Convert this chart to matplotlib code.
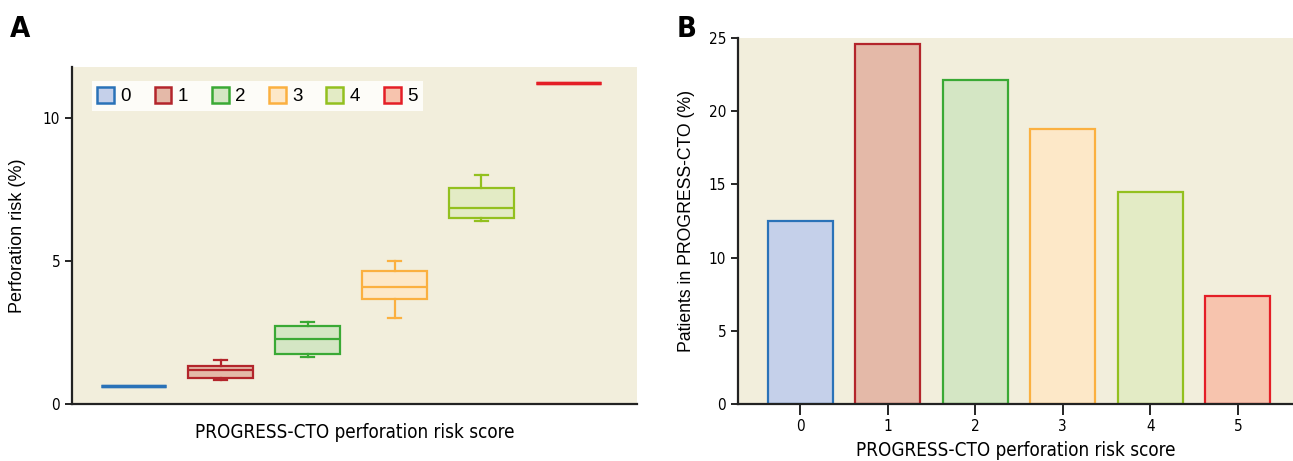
import numpy as np
import matplotlib
matplotlib.use('Agg')
import matplotlib.pyplot as plt
from matplotlib.patches import Patch

## data
scores = [0, 1, 2, 3, 4, 5]
risk_whislo = [0.64, 0.85, 1.65, 3.02, 6.41, 11.22]
risk_q1     = [0.64, 0.92, 1.76, 3.68, 6.50, 11.22]
risk_med    = [0.64, 1.18, 2.26, 4.10, 6.85, 11.22]
risk_q3     = [0.64, 1.34, 2.74, 4.64, 7.55, 11.22]
risk_whishi = [0.64, 1.54, 2.87, 5.01, 8.02, 11.22]
patients_pct = [12.5, 24.6, 22.1, 18.8, 14.45, 7.35]

edge_cols = ['#2a72b8', '#b3252b', '#3aa935', '#fbb040', '#93c01f', '#e41e26']
fill_cols = ['#c5d0ea', '#e4b9a8', '#d4e6c4', '#fde8c8', '#e3ebc5', '#f7c4ae']
bg = '#f2eedc'

narrow = dict(family='DejaVu Sans', stretch='condensed')
plain = ['Liberation Sans', 'DejaVu Sans']

fig = plt.figure(figsize=(12.93, 4.61), dpi=100)
axA = fig.add_axes([0.0557, 0.1236, 0.4370, 0.7311])
axB = fig.add_axes([0.5708, 0.1236, 0.4292, 0.7940])

for ax in (axA, axB):
    ax.set_facecolor(bg)
    for s in ('top', 'right'):
        ax.spines[s].set_visible(False)
    for s in ('left', 'bottom'):
        ax.spines[s].set_linewidth(1.6)
        ax.spines[s].set_color('#222222')

## A: box plots
stats = []
for i in range(len(scores)):
    stats.append(dict(whislo=risk_whislo[i], q1=risk_q1[i], med=risk_med[i],
                      q3=risk_q3[i], whishi=risk_whishi[i], fliers=[]))
bp = axA.bxp(stats, positions=scores, widths=0.75, patch_artist=True,
             showfliers=False, capwidths=0.15)
for i in range(len(scores)):
    flat = risk_q1[i] == risk_q3[i]
    bp['boxes'][i].set(facecolor=fill_cols[i], edgecolor=edge_cols[i], linewidth=2.4 if flat else 1.6)
    bp['medians'][i].set(color=edge_cols[i], linewidth=2.4 if flat else 1.6)
    for j in (2 * i, 2 * i + 1):
        bp['whiskers'][j].set(color=edge_cols[i], linewidth=1.6, visible=not flat)
        bp['caps'][j].set(color=edge_cols[i], linewidth=1.6, visible=not flat)

axA.set_xlim(-0.71, 5.79)
axA.set_ylim(0, 11.78)
axA.set_yticks([0, 5, 10])
axA.set_xticks([])
axA.tick_params(axis='y', direction='out', length=5, width=1.2, labelsize=11)
for lab in axA.get_yticklabels():
    lab.set(**narrow)
axA.set_ylabel('Perforation risk (%)', fontsize=13, family=plain, labelpad=12)
axA.set_xlabel('PROGRESS-CTO perforation risk score', fontsize=13.5, labelpad=14, **narrow)

handles = [Patch(facecolor=fill_cols[i], edgecolor=edge_cols[i], linewidth=1.8,
                 label=str(s)) for i, s in enumerate(scores)]
leg = axA.legend(handles=handles, ncol=6, loc='upper left', bbox_to_anchor=(0.018, 0.985),
                 handlelength=0.9, handleheight=0.9, handletextpad=0.35,
                 columnspacing=1.25, borderpad=0.3, fancybox=False,
                 prop={'family': plain, 'size': 13.5})
leg.get_frame().set_facecolor('#fdfcf8')
leg.get_frame().set_edgecolor('none')
leg.get_frame().set_alpha(1)

## B: bars
axB.bar(scores, patients_pct, width=0.74, color=fill_cols, edgecolor=edge_cols, linewidth=1.6)
axB.set_xlim(-0.71, 5.63)
axB.set_ylim(0, 25)
axB.set_yticks([0, 5, 10, 15, 20, 25])
axB.set_xticks(scores)
axB.tick_params(axis='y', direction='out', length=5, width=1.2, labelsize=11)
axB.tick_params(axis='x', direction='out', length=8, width=1.2, labelsize=11, pad=3)
for lab in axB.get_yticklabels() + axB.get_xticklabels():
    lab.set(**narrow)
axB.set_ylabel('Patients in PROGRESS-CTO (%)', fontsize=12.7, family=plain, labelpad=10)
axB.set_xlabel('PROGRESS-CTO perforation risk score', fontsize=13.5, labelpad=5, **narrow)

fig.text(0.008, 0.92, 'A', fontsize=21, fontweight='bold', **narrow)
fig.text(0.523, 0.92, 'B', fontsize=21, fontweight='bold', **narrow)

fig.savefig('out.png', dpi=100)
